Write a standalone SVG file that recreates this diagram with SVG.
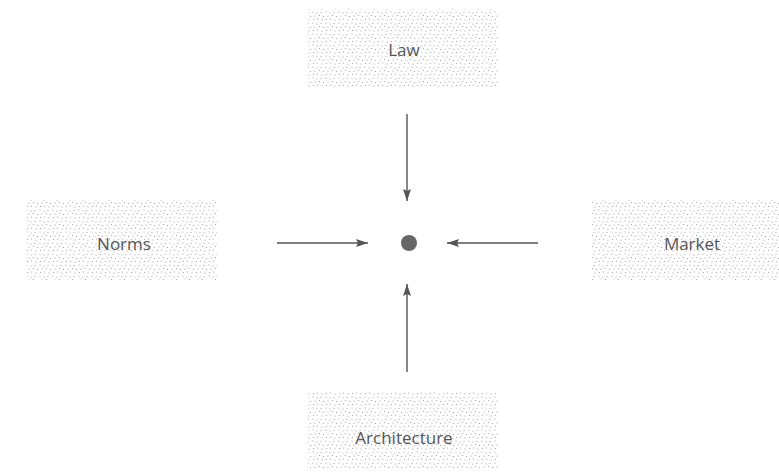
<svg xmlns="http://www.w3.org/2000/svg" width="779" height="476" viewBox="0 0 779 476">
<style>
.box{fill:url(#stip)}
.lbl{font-family:"Open Sans","Noto Sans",sans-serif;font-size:17px;fill:#555;text-anchor:middle;dominant-baseline:central}
.conn{stroke:#555;stroke-width:1.4;fill:none;marker-end:url(#ah)}
</style>
<defs>
<pattern id="stip" width="13" height="11" patternUnits="userSpaceOnUse">
<g fill="#9a9a9a">
<circle cx="1" cy="1" r="0.6"/><circle cx="5" cy="2" r="0.6"/><circle cx="9" cy="1.5" r="0.6"/>
<circle cx="3" cy="5" r="0.6"/><circle cx="7.5" cy="4.5" r="0.6"/><circle cx="11.5" cy="5.5" r="0.6"/>
<circle cx="1.5" cy="8.5" r="0.6"/><circle cx="5.5" cy="8" r="0.6"/><circle cx="10" cy="9" r="0.6"/>
</g>
</pattern>
<marker id="ah" viewBox="0 0 12 8" refX="12" refY="4" markerWidth="12" markerHeight="8" markerUnits="userSpaceOnUse" orient="auto">
<path d="M0,0 L12,4 L0,8 L2,4 Z" fill="#555"/>
</marker>
</defs>
<g id="law"><rect class="box" x="308" y="9" width="190" height="79"/><text class="lbl" x="404" y="49">Law</text></g>
<g id="norms"><rect class="box" x="27" y="200" width="190" height="80"/><text class="lbl" x="124" y="243">Norms</text></g>
<g id="market"><rect class="box" x="592" y="200" width="187" height="80"/><text class="lbl" x="692" y="243">Market</text></g>
<g id="architecture"><rect class="box" x="308" y="392" width="190" height="76"/><text class="lbl" x="404" y="437">Architecture</text></g>
<g id="center"><circle cx="409" cy="243" r="8" fill="#666"/></g>
<g id="connectors">
<line class="conn" x1="407" y1="114" x2="407" y2="201"/>
<line class="conn" x1="277" y1="243" x2="368" y2="243"/>
<line class="conn" x1="538" y1="243" x2="447" y2="243"/>
<line class="conn" x1="407" y1="372" x2="407" y2="284"/>
</g>
</svg>
